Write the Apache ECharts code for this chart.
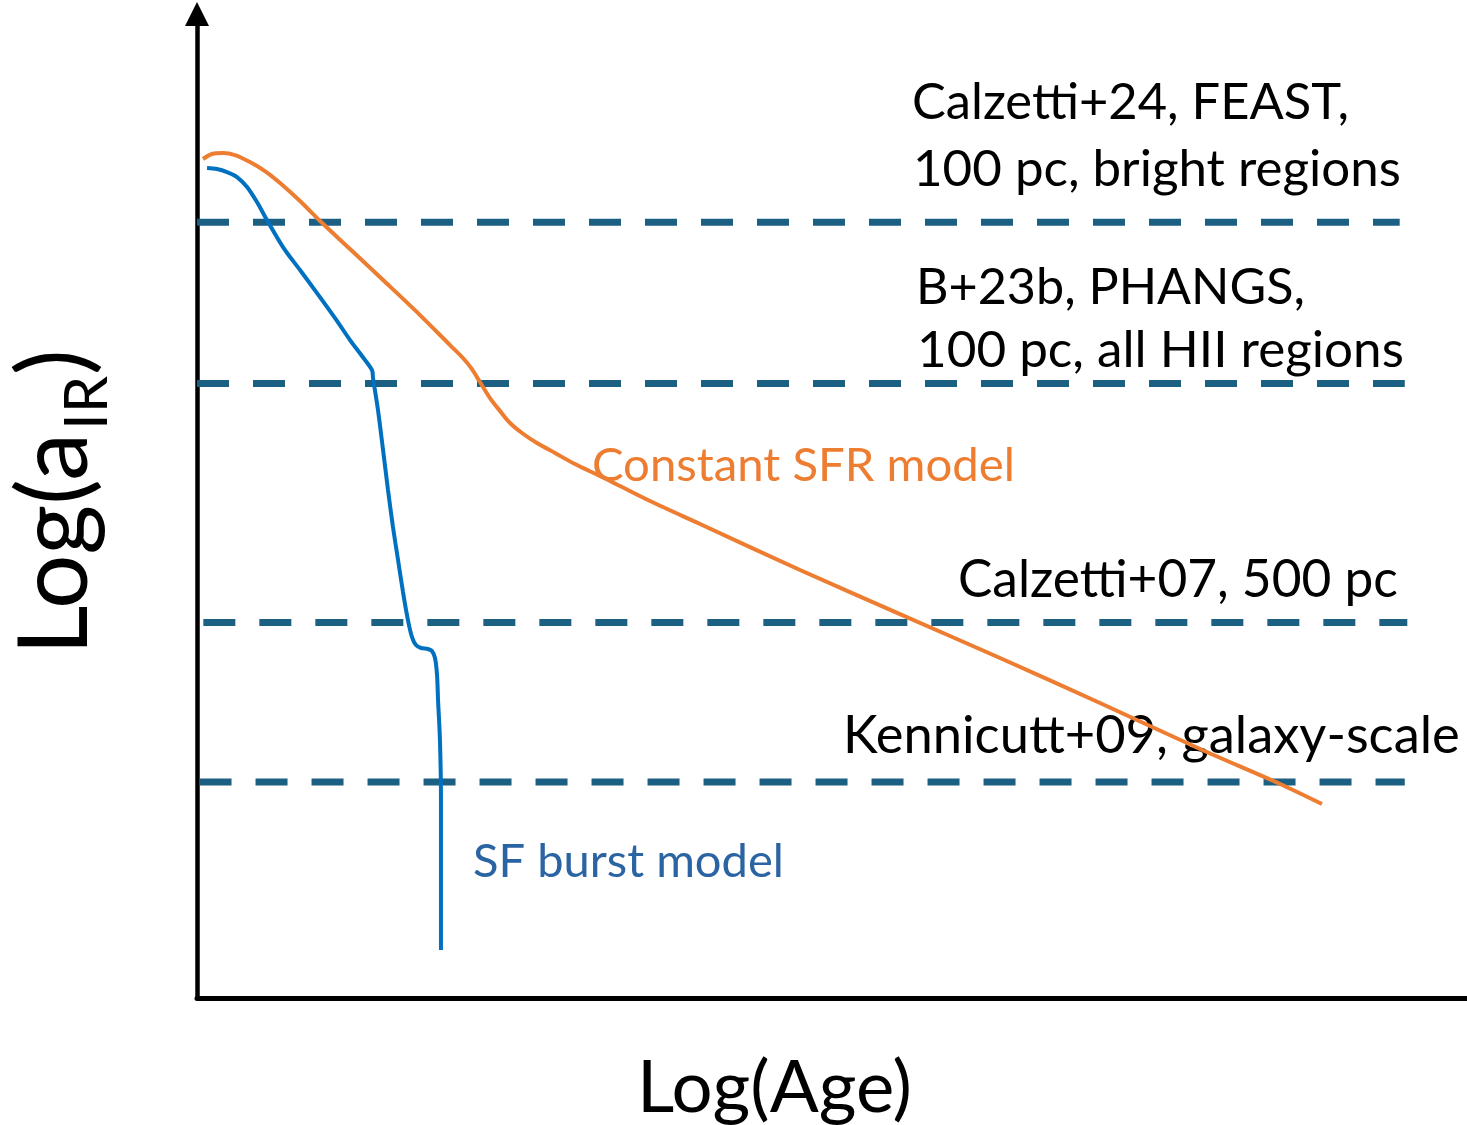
<!DOCTYPE html>
<html>
<head>
<meta charset="utf-8">
<script src="https://cdn.jsdelivr.net/npm/echarts@6/dist/echarts.min.js"></script>
<style>
html,body{margin:0;padding:0;background:#fff;}
#c{width:1467px;height:1125px;}
</style>
</head>
<body>
<div id="c"></div>
<script>
// ---- data (schematic units: x = Log(Age) 0..100, y = Log(a_IR) 0..~99) ----
const sfrX = [0.47,1.18,2.05,2.99,4.17,5.35,6.54,8.11,9.69,12.05,14.65,17.56,19.92,20.94,21.65,22.28,23.07,23.86,24.65,25.59,26.77,28.19,29.76,31.73,33.31,35.67,39.61,47.48,55.35,63.23,71.10,78.98,85.28,88.58];
const sfrY = [84.24,84.74,84.84,84.64,83.94,83.03,81.83,80.02,78.01,75.20,72.09,68.57,65.56,64.26,63.15,61.85,60.24,58.94,57.73,56.73,55.72,54.72,53.61,52.41,51.40,49.90,47.59,42.97,38.55,34.14,29.62,25.00,21.49,19.48];

const burstX = [0.79,1.57,2.36,3.15,3.94,4.72,5.51,6.77,8.11,9.45,10.87,12.05,12.99,13.78,13.86,14.25,14.65,15.04,15.43,15.83,16.22,16.61,16.93,17.24,17.64,18.19,18.50,18.74,18.90,18.98,19.13,19.21,19.21,19.21];
const burstY = [83.33,83.23,82.93,82.43,81.43,79.92,78.11,75.40,73.09,70.78,68.27,66.06,64.46,63.05,62.25,59.04,55.02,51.00,47.29,43.98,40.76,37.95,36.24,35.44,35.14,35.04,34.84,34.14,32.43,29.92,25.90,19.88,12.85,4.82];

const refLevels = [77.9, 61.7, 37.7, 21.7];
const refStart  = [0.0, 0.0, 0.5, 0.2];
const refEnd    = [94.7, 95.1, 95.3, 95.1];
const refLabels = [
  ['Calzetti+24, FEAST,', '100 pc, bright regions'],
  ['B+23b, PHANGS,', '100 pc, all HII regions'],
  ['Calzetti+07, 500 pc'],
  ['Kennicutt+09, galaxy-scale']
];
const modelLabels = ['Constant SFR model', 'SF burst model'];
const xTitle = 'Log(Age)';
const yTitleMain = 'Log(a';
const yTitleSub = 'IR';
const yTitleEnd = ')';

// ---- helpers ----
const mctx = document.createElement('canvas').getContext('2d');
function measure(text, family, size) {
  mctx.font = size + 'px ' + family;
  return mctx.measureText(text).width;
}
function fit(text, family, target) {
  return 100 * target / measure(text, family, 100);
}
const FONT = 'Lato, "Noto Sans", sans-serif';

function txt(text, x, y, family, size, color, extra) {
  return Object.assign({
    type: 'text', x: x, y: y, silent: true,
    style: {
      text: text, fontFamily: family, fontSize: size, fill: color,
      textAlign: 'left', textVerticalAlign: 'middle', align: 'left', verticalAlign: 'middle'
    }
  }, extra || {});
}

const chart = echarts.init(document.getElementById('c'), null, {renderer: 'canvas'});

const zip = (xs, ys) => xs.map((x, i) => [x, ys[i]]);

const series = [];
refLevels.forEach((lv, i) => {
  series.push({
    type: 'line', name: 'ref' + i, z: 1,
    data: [[refStart[i], lv], [refEnd[i], lv]],
    showSymbol: false, silent: true,
    lineStyle: {color: '#1b5f82', width: 7, type: [32, 24], cap: 'butt'}
  });
});
series.push({
  type: 'line', name: modelLabels[0], z: 3,
  data: zip(sfrX, sfrY), showSymbol: false, smooth: 0.3, silent: true,
  lineStyle: {color: '#ed7d31', width: 4}
});
series.push({
  type: 'line', name: modelLabels[1], z: 3,
  data: zip(burstX, burstY), showSymbol: false, smooth: 0.3, silent: true,
  lineStyle: {color: '#0070c0', width: 4}
});

// text sizes fitted to target widths (px)
const g = [];
g.push(txt(refLabels[0][0], 912, 103, FONT, fit(refLabels[0][0], FONT, 437), '#000'));
g.push(txt(refLabels[0][1], 913, 170, FONT, fit(refLabels[0][1], FONT, 488), '#000'));
g.push(txt(refLabels[1][0], 916, 288, FONT, fit(refLabels[1][0], FONT, 389), '#000'));
g.push(txt(refLabels[1][1], 917, 350, FONT, fit(refLabels[1][1], FONT, 487), '#000'));
g.push(txt(refLabels[2][0], 958, 580, FONT, fit(refLabels[2][0], FONT, 440), '#000'));
g.push(txt(refLabels[3][0], 843, 736, FONT, fit(refLabels[3][0], FONT, 617), '#000'));
g.push(txt(modelLabels[0], 592, 466, FONT, fit(modelLabels[0], FONT, 423), '#ed7d31'));
g.push(txt(modelLabels[1], 473, 862, FONT, fit(modelLabels[1], FONT, 311), '#2b64a3'));
g.push(txt(xTitle, 637, 1089, FONT, fit(xTitle, FONT, 275), '#000'));

// rotated y title
const yMainSize = fit(yTitleMain, FONT, 222);
const ySubSize = yMainSize * 0.62;
const wMain = measure(yTitleMain, FONT, yMainSize);
const wSub = measure(yTitleSub, FONT, ySubSize);
const rot = Math.PI / 2;
g.push(txt(yTitleMain, 56, 655, FONT, yMainSize, '#000', {rotation: rot}));
g.push(txt(yTitleSub, 88, 655 - wMain - 3, FONT, ySubSize, '#000', {rotation: rot}));
g.push(txt(yTitleEnd, 56, 655 - wMain - wSub - 4, FONT, yMainSize, '#000', {rotation: rot}));

chart.setOption({
  animation: false,
  backgroundColor: '#fff',
  grid: {left: 197, right: 0, top: 14, bottom: 127, containLabel: false},
  xAxis: {
    type: 'value', min: 0, max: 100,
    axisLine: {show: true, onZero: false, lineStyle: {color: '#000', width: 5}},
    axisTick: {show: false}, axisLabel: {show: false}, splitLine: {show: false}
  },
  yAxis: {
    type: 'value', min: 0, max: 98.8,
    axisLine: {show: true, onZero: false, symbol: ['none', 'triangle'], symbolSize: [24, 24],
      lineStyle: {color: '#000', width: 4.5}},
    axisTick: {show: false}, axisLabel: {show: false}, splitLine: {show: false}
  },
  series: series,
  graphic: g
});
</script>
</body>
</html>
